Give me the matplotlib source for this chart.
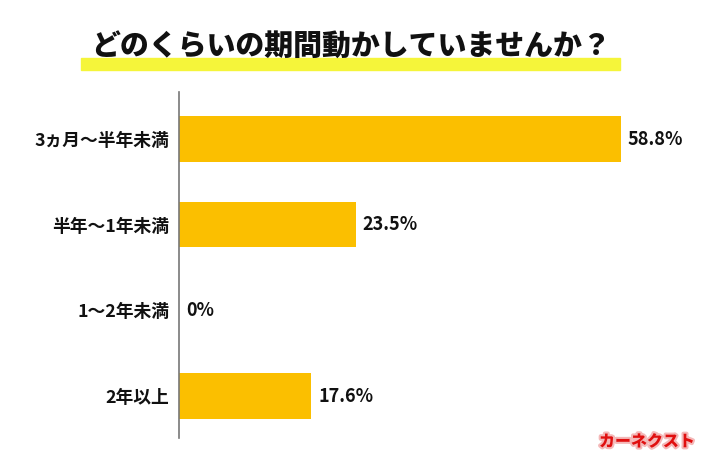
import matplotlib.pyplot as plt
import matplotlib.patheffects as pe

plt.rcParams['font.family'] = ['Noto Sans CJK JP', 'DejaVu Sans']

# data
title = "どのくらいの期間動かしていませんか？"
categories = ["3ヵ月〜半年未満", "半年〜1年未満", "1〜2年未満", "2年以上"]
values = [58.8, 23.5, 0, 17.6]
value_labels = ["58.8%", "23.5%", "0%", "17.6%"]

bar_color = "#FBBF00"

fig = plt.figure(figsize=(7.1, 4.74), dpi=100)
ax = fig.add_axes([179 / 710, 36 / 474, 526 / 710, 346 / 474])

y = range(len(categories))
ax.barh(y, values, height=0.53, color=bar_color)
ax.set_ylim(3.49, -0.55)
ax.set_xlim(0, 70)

ax.set_yticks(list(y))
ax.set_yticklabels(categories, fontsize=12.8, fontweight='bold', color='#111111')
ax.tick_params(axis='y', length=0, pad=7)
ax.set_xticks([])
for s in ['top', 'right', 'bottom']:
    ax.spines[s].set_visible(False)
ax.spines['left'].set_color('#777777')
ax.spines['left'].set_linewidth(1.2)

for yi, v, lab in zip(y, values, value_labels):
    ax.text(v + 0.9, yi, lab, va='center', ha='left', fontsize=13, fontweight='bold', color='#111111')

# title with yellow highlighter band
fig.patches.append(plt.Rectangle((81 / 710, 1 - 70 / 474), 539 / 710, 12 / 474,
                                 transform=fig.transFigure, color='#F5F53A', zorder=0))
fig.text(351 / 710, 1 - 47 / 474, title, ha='center', va='center',
         fontsize=20.8, fontweight='heavy', color='#111111', zorder=2)

# logo
fig.text(647 / 710, 1 - 442 / 474, "カーネクスト", ha='center', va='center',
         fontsize=11.5, fontweight='heavy', style='italic', color='#E01010',
         path_effects=[pe.withStroke(linewidth=3, foreground='#F4B8B8')])

fig.savefig("out.png", dpi=100)
